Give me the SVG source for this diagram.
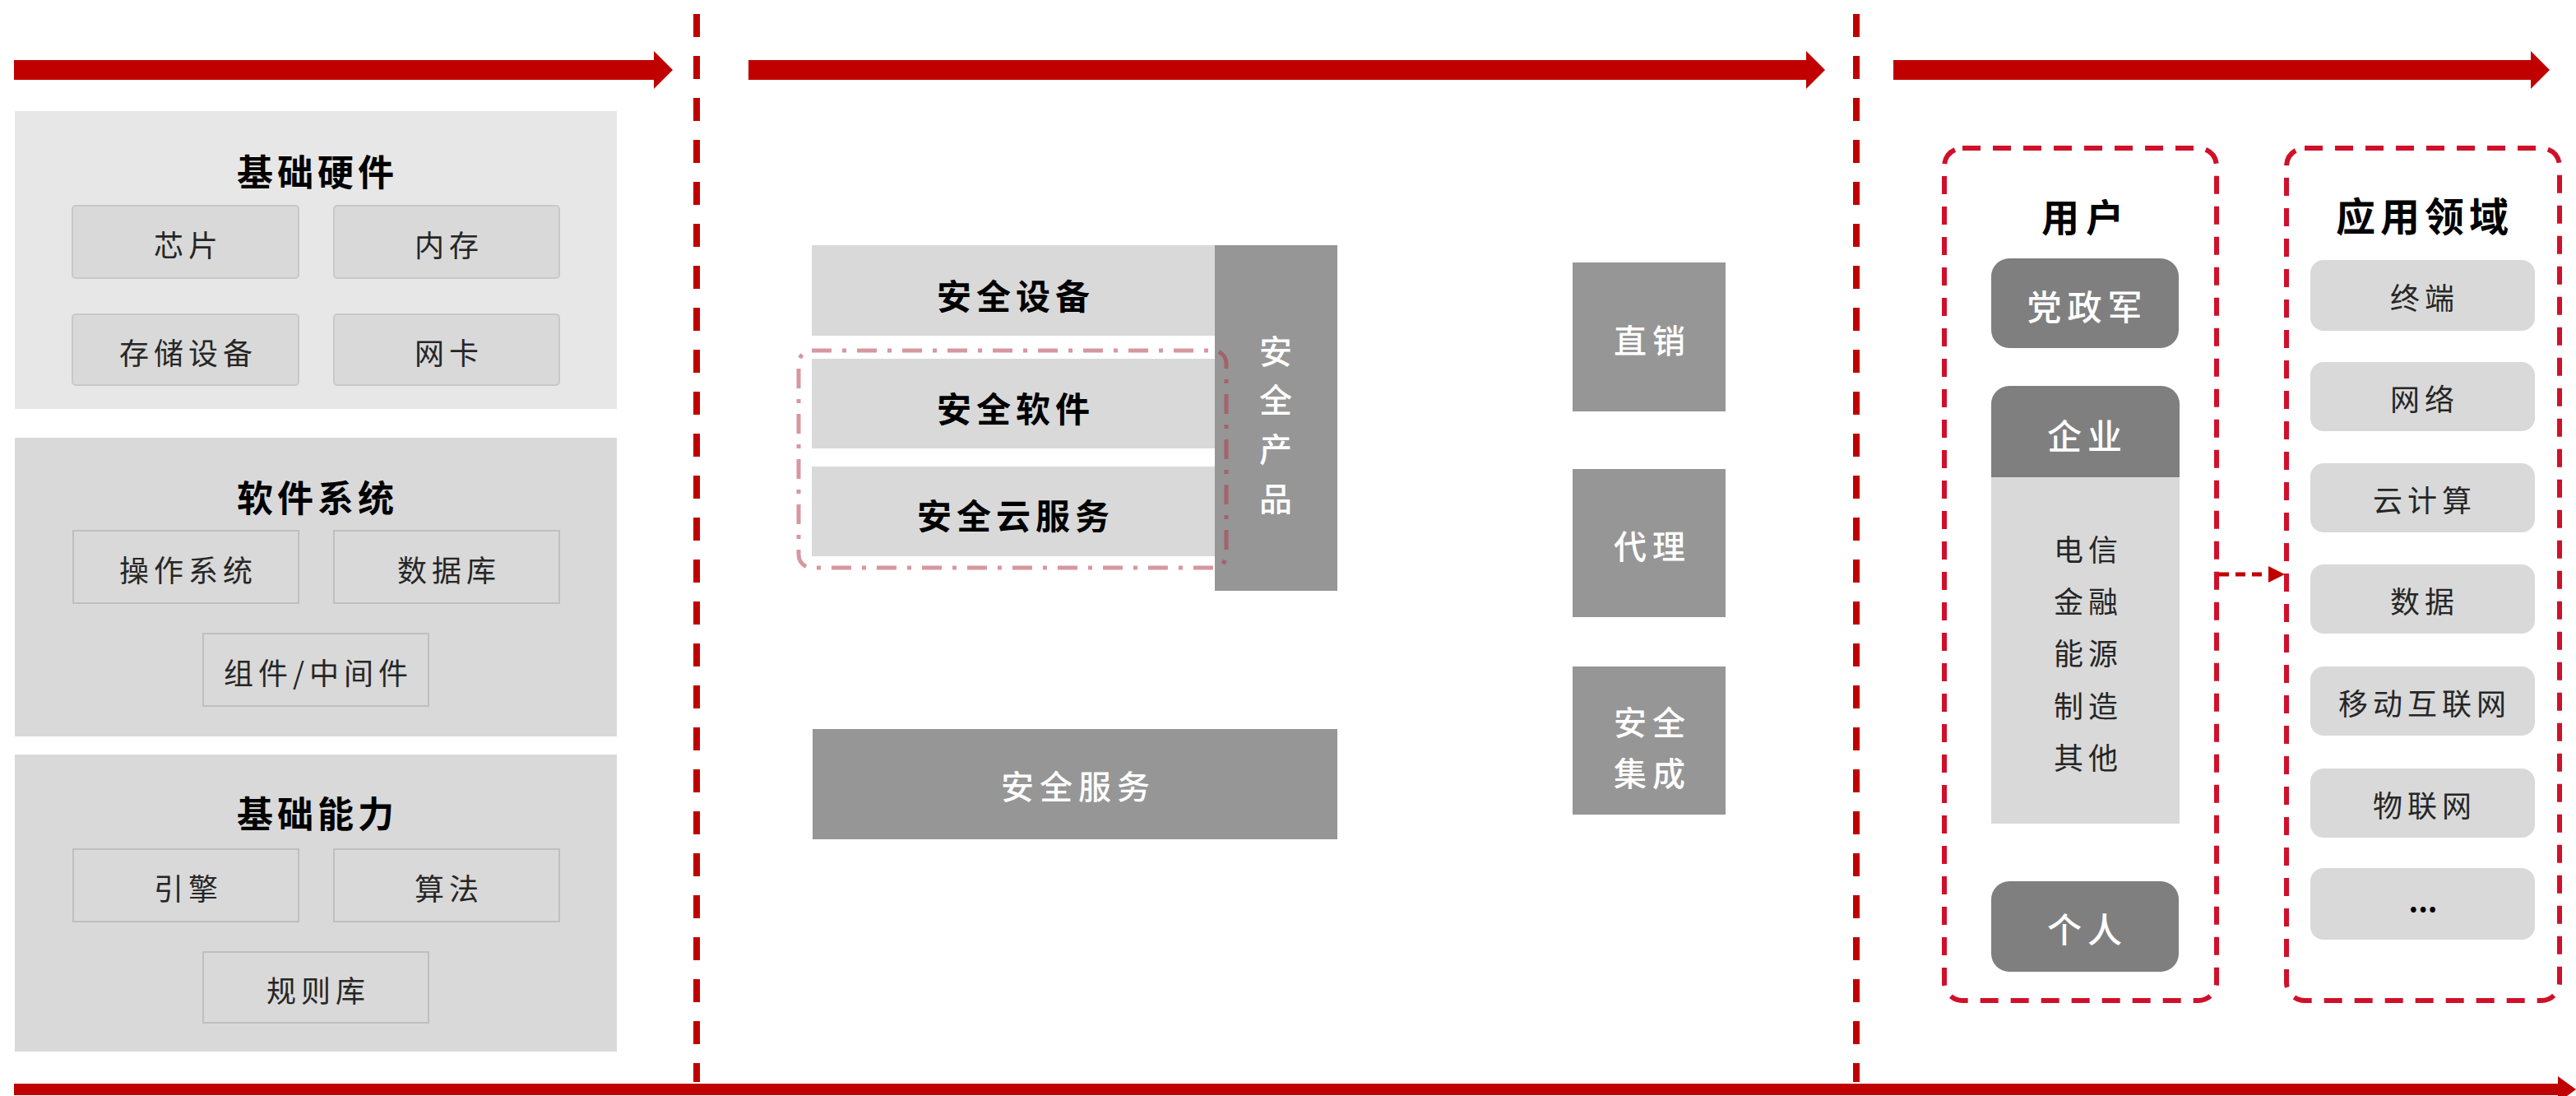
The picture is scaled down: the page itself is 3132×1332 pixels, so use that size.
<svg xmlns="http://www.w3.org/2000/svg" width="3132" height="1332" viewBox="0 0 3132 1332">
  <style>
    text { font-family: "Noto Sans CJK SC", "Noto Sans", sans-serif; text-anchor: middle; dominant-baseline: central; }
    .title { font-size: 44px; font-weight: 700; fill: #000; letter-spacing: 5px; }
    .sub { font-size: 36px; font-weight: 400; fill: #262626; letter-spacing: 6px; }
    .mid { font-size: 42px; font-weight: 700; fill: #000; letter-spacing: 6px; }
    .wt { font-size: 40px; font-weight: 500; fill: #fff; letter-spacing: 7px; }
    .panelA { fill: #e7e7e7; }
    .panel { fill: #d9d9d9; }
    .subA { fill: #d9d9d9; stroke: #c8c8c8; stroke-width: 2; }
    .subB { fill: #d9d9d9; stroke: #bfbfbf; stroke-width: 2; }
    .light { fill: #d9d9d9; }
    .dark { fill: #969696; }
    .darker { fill: #7f7f7f; }
    .red { fill: #c00000; }
    .sep { stroke: #c00000; stroke-width: 8; stroke-dasharray: 28 23; fill: none; }
    .redbox { stroke: #d0102a; stroke-width: 6; stroke-dasharray: 22 15; fill: none; }
  </style>
  <defs>
    <marker id="ah" viewBox="0 0 10 10" refX="10" refY="5" markerWidth="4" markerHeight="4" orient="auto" markerUnits="strokeWidth">
      <path d="M0,0 L10,5 L0,10 Z" fill="#c00000"/>
    </marker>
  </defs>
  <rect width="3132" height="1332" fill="#ffffff"/>

  <!-- flow arrows and separators -->
  <g id="flow">
    <path class="red" d="M17,73 H795 V62 L818,85 L795,108 V97 H17 Z"/>
    <path class="red" d="M910,73 H2196 V62 L2219,85 L2196,108 V97 H910 Z"/>
    <path class="red" d="M2302,73 H3077 V62 L3100,85 L3077,108 V97 H2302 Z"/>
    <path class="red" d="M17,1317 H3110 V1308 L3132,1324 L3110,1340 V1331 H17 Z"/>
    <line class="sep" x1="847" y1="17" x2="847" y2="1315"/>
    <line class="sep" x1="2257" y1="17" x2="2257" y2="1315"/>
  </g>

  <!-- left panel -->
  <g id="hardware">
    <rect class="panelA" x="18" y="135" width="732" height="362"/>
    <text class="title" x="386" y="207">基础硬件</text>
    <g id="chip"><rect class="subA" x="88" y="250" width="275" height="88" rx="4"/><text class="sub" x="229" y="296">芯片</text></g>
    <g id="memory"><rect class="subA" x="406" y="250" width="274" height="88" rx="4"/><text class="sub" x="546" y="296">内存</text></g>
    <g id="storage"><rect class="subA" x="88" y="382" width="275" height="86" rx="4"/><text class="sub" x="229" y="427">存储设备</text></g>
    <g id="nic"><rect class="subA" x="406" y="382" width="274" height="86" rx="4"/><text class="sub" x="546" y="427">网卡</text></g>
  </g>
  <g id="software">
    <rect class="panel" x="18" y="532" width="732" height="363"/>
    <text class="title" x="386" y="603">软件系统</text>
    <g id="os"><rect class="subB" x="89" y="645" width="274" height="88"/><text class="sub" x="229" y="691">操作系统</text></g>
    <g id="db"><rect class="subB" x="406" y="645" width="274" height="88"/><text class="sub" x="546" y="691">数据库</text></g>
    <g id="middleware"><rect class="subB" x="247" y="770" width="274" height="88"/><text class="sub" x="387" y="816">组件/中间件</text></g>
  </g>
  <g id="capability">
    <rect class="panel" x="18" y="917" width="732" height="361"/>
    <text class="title" x="386" y="987">基础能力</text>
    <g id="engine"><rect class="subB" x="89" y="1032" width="274" height="88"/><text class="sub" x="229" y="1078">引擎</text></g>
    <g id="algo"><rect class="subB" x="406" y="1032" width="274" height="88"/><text class="sub" x="546" y="1078">算法</text></g>
    <g id="rules"><rect class="subB" x="247" y="1157" width="274" height="86"/><text class="sub" x="387" y="1202">规则库</text></g>
  </g>

  <!-- middle panel -->
  <g id="sec-device"><rect class="light" x="987" y="298" width="490" height="110"/><text class="mid" x="1235" y="357">安全设备</text></g>
  <g id="sec-software"><rect class="light" x="987" y="436" width="490" height="109"/><text class="mid" x="1235" y="494">安全软件</text></g>
  <g id="sec-cloud"><rect class="light" x="987" y="567" width="490" height="109"/><text class="mid" x="1235" y="624">安全云服务</text></g>
  <g id="sec-product">
    <rect class="dark" x="1477" y="298" width="149" height="420"/>
    <text class="wt" x="1551" y="425" style="letter-spacing:0">安</text>
    <text class="wt" x="1551" y="484" style="letter-spacing:0">全</text>
    <text class="wt" x="1551" y="544" style="letter-spacing:0">产</text>
    <text class="wt" x="1551" y="604" style="letter-spacing:0">品</text>
  </g>
  <g id="sec-frame">
    <rect x="971" y="426" width="520" height="264" rx="16" fill="none" stroke="#b03040" stroke-opacity="0.5" stroke-width="5" stroke-dasharray="24 13 5 13"/>
  </g>
  <g id="sec-service"><rect class="dark" x="988" y="886" width="638" height="134"/><text class="wt" x="1311" y="954">安全服务</text></g>

  <g id="direct"><rect class="dark" x="1912" y="319" width="186" height="181"/><text class="wt" x="2009" y="412">直销</text></g>
  <g id="agent"><rect class="dark" x="1912" y="570" width="186" height="180"/><text class="wt" x="2009" y="662">代理</text></g>
  <g id="integration"><rect class="dark" x="1912" y="810" width="186" height="180"/><text class="wt" x="2009" y="876">安全</text><text class="wt" x="2009" y="938">集成</text></g>

  <!-- right panel -->
  <g id="users">
    <rect class="redbox" x="2364" y="180" width="331" height="1036" rx="22"/>
    <text class="title" x="2536" y="261" style="font-size:46px;letter-spacing:8px">用户</text>
    <g id="gov"><rect class="darker" x="2421" y="314" width="228" height="109" rx="22"/><text class="wt" x="2538" y="370" style="font-size:42px">党政军</text></g>
    <g id="enterprise">
      <rect class="light" x="2421" y="540" width="229" height="461"/>
      <path class="darker" d="M2443,469 H2628 A22,22 0 0 1 2650,491 V580 H2421 V491 A22,22 0 0 1 2443,469 Z"/>
      <text class="wt" x="2538" y="527" style="font-size:42px">企业</text>
      <text class="sub" x="2539" y="666">电信</text>
      <text class="sub" x="2539" y="729">金融</text>
      <text class="sub" x="2539" y="792">能源</text>
      <text class="sub" x="2539" y="856">制造</text>
      <text class="sub" x="2539" y="919">其他</text>
    </g>
    <g id="personal"><rect class="darker" x="2421" y="1071" width="228" height="110" rx="22"/><text class="wt" x="2538" y="1127" style="font-size:42px">个人</text></g>
  </g>
  <g id="domains">
    <rect class="redbox" x="2780" y="180" width="332" height="1036" rx="22"/>
    <text class="title" x="2948" y="260" style="font-size:48px;letter-spacing:6px">应用领域</text>
    <g id="terminal"><rect class="light" x="2809" y="316" width="273" height="86" rx="16"/><text class="sub" x="2948" y="360">终端</text></g>
    <g id="network"><rect class="light" x="2809" y="440" width="273" height="84" rx="16"/><text class="sub" x="2948" y="483">网络</text></g>
    <g id="cloud"><rect class="light" x="2809" y="563" width="273" height="84" rx="16"/><text class="sub" x="2948" y="606">云计算</text></g>
    <g id="data"><rect class="light" x="2809" y="686" width="273" height="84" rx="16"/><text class="sub" x="2948" y="729">数据</text></g>
    <g id="mobile"><rect class="light" x="2809" y="810" width="273" height="84" rx="16"/><text class="sub" x="2948" y="853">移动互联网</text></g>
    <g id="iot"><rect class="light" x="2809" y="934" width="273" height="84" rx="16"/><text class="sub" x="2948" y="977">物联网</text></g>
    <g id="more"><rect class="light" x="2809" y="1055" width="273" height="87" rx="16"/><text class="sub" x="2946" y="1093" style="font-weight:700;fill:#000;letter-spacing:0">...</text></g>
  </g>

  <!-- connectors -->
  <g id="connectors">
    <line x1="2698" y1="698" x2="2778" y2="698" stroke="#c00000" stroke-width="5" stroke-dasharray="12 8" marker-end="url(#ah)"/>
  </g>
</svg>
